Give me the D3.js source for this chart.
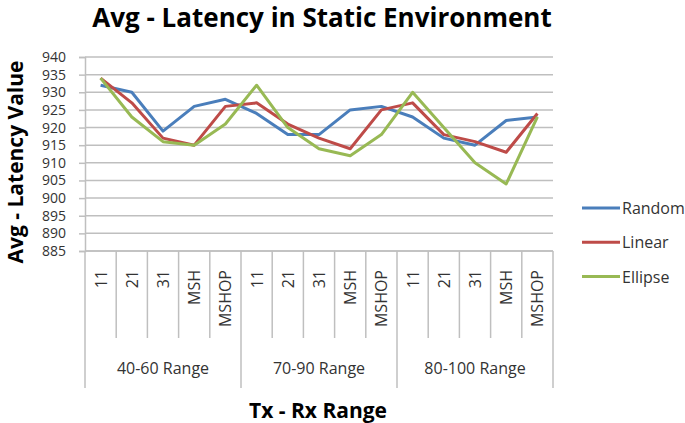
<!DOCTYPE html>
<html><head><meta charset="utf-8">
<script src="https://cdn.jsdelivr.net/npm/d3@7"></script>
<style>body{margin:0;background:#fff}svg{display:block}text{font-family:"Open Sans","Liberation Sans",sans-serif}</style>
</head><body><svg id="c" width="685" height="423"></svg>
<script>
const groups = ["40-60 Range", "70-90 Range", "80-100 Range"];
const subCats = ["11", "21", "31", "MSH", "MSHOP"];
const random  = [932, 930, 919, 926, 928, 924, 918, 918, 925, 926, 923, 917, 915, 922, 923];
const linear  = [934, 927, 917, 915, 926, 927, 921, 917, 914, 925, 927, 918, 916, 913, 924];
const ellipse = [934, 923, 916, 915, 921, 932, 920, 914, 912, 918, 930, 920, 910, 904, 923];
const yTicks = [885, 890, 895, 900, 905, 910, 915, 920, 925, 930, 935, 940];
const seriesNames = ["Random", "Linear", "Ellipse"];
const colors = ["#4a7ebb", "#be4b48", "#98b954"];

const cats = [];
groups.forEach(g => subCats.forEach(s => cats.push(g + "|" + s)));
const series = [random, linear, ellipse];

const svg = d3.select("#c");
const L = 85, R = 553, T = 57, B = 251;
const x = d3.scaleBand().domain(cats).range([L, R]);
const y = d3.scaleLinear().domain([885, 940]).range([B, T]);

// gridlines
svg.append("g").selectAll("line").data(yTicks).join("line")
  .attr("x1", L).attr("x2", R).attr("y1", d => y(d)).attr("y2", d => y(d))
  .attr("stroke", "#bfbfbf").attr("stroke-width", 1.5);

// y axis
const ya = svg.append("g").attr("transform", `translate(${L},0)`)
  .call(d3.axisLeft(y).tickValues(yTicks).tickSize(6).tickPadding(13));
ya.select(".domain").attr("stroke", "#bfbfbf").attr("stroke-width", 1.5);
ya.selectAll(".tick line").attr("stroke", "#bfbfbf").attr("stroke-width", 1.5);
ya.selectAll("text").attr("font-size", 14).attr("fill", "#333")
  .style("font-family", "'Open Sans',sans-serif");

// x axis lines
const gx = svg.append("g");
gx.append("line").attr("x1", L).attr("x2", R).attr("y1", B).attr("y2", B)
  .attr("stroke", "#bfbfbf").attr("stroke-width", 1.5);
const bounds = cats.map((c, i) => i).concat([cats.length]);
gx.selectAll("line.b").data(bounds).join("line").attr("class", "b")
  .attr("x1", i => L + i * x.step()).attr("x2", i => L + i * x.step())
  .attr("y1", B).attr("y2", i => i % 5 === 0 ? 388 : 338)
  .attr("stroke", "#bfbfbf").attr("stroke-width", 1.5);
gx.selectAll("text.s").data(cats).join("text").attr("class", "s")
  .attr("transform", d => `translate(${x(d) + x.bandwidth() / 2 + 6},270) rotate(-90)`)
  .attr("text-anchor", "end").attr("font-size", 16).attr("fill", "#333")
  .text(d => d.split("|")[1]);
gx.selectAll("text.g").data(groups).join("text").attr("class", "g")
  .attr("x", (d, i) => L + (i * 5 + 2.5) * x.step()).attr("y", 374)
  .attr("text-anchor", "middle").attr("font-size", 16).attr("fill", "#333")
  .text(d => d);

// lines
const line = d3.line().x((d, i) => x(cats[i]) + x.bandwidth() / 2).y(d => y(d));
svg.append("g").selectAll("path").data(series).join("path")
  .attr("d", d => line(d)).attr("fill", "none")
  .attr("stroke", (d, i) => colors[i]).attr("stroke-width", 3)
  .attr("stroke-linejoin", "round");

// legend
const lg = svg.append("g").selectAll("g").data(seriesNames).join("g")
  .attr("transform", (d, i) => `translate(582,${208 + i * 34.3})`);
lg.append("line").attr("x1", 0).attr("x2", 38).attr("stroke", (d, i) => colors[i]).attr("stroke-width", 3);
lg.append("text").attr("x", 40).attr("y", 6).attr("font-size", 16).attr("fill", "#333").text(d => d);

// titles
svg.append("text").attr("x", 322).attr("y", 27).attr("text-anchor", "middle")
  .attr("font-size", 26).attr("font-weight", "bold").attr("fill", "#000")
  .text("Avg - Latency in Static Environment");
svg.append("text").attr("transform", "translate(23,162) rotate(-90)").attr("text-anchor", "middle")
  .attr("font-size", 21).attr("font-weight", "bold").attr("fill", "#000")
  .text("Avg - Latency Value");
svg.append("text").attr("x", 318).attr("y", 418).attr("text-anchor", "middle")
  .attr("font-size", 21).attr("font-weight", "bold").attr("fill", "#000")
  .text("Tx - Rx Range");
</script></body></html>
